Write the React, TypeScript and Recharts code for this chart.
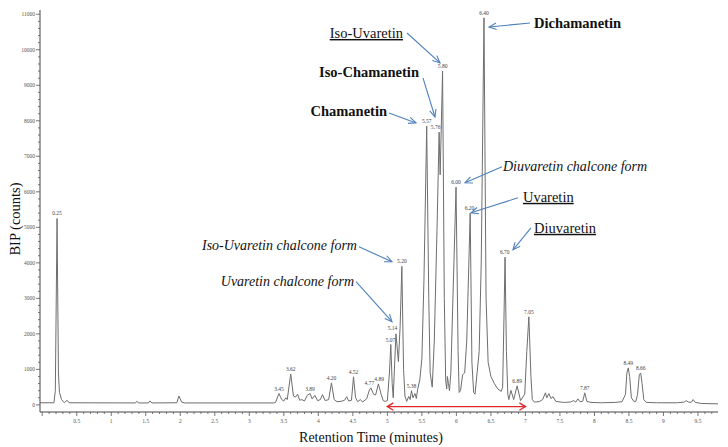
import { ComposedChart, Line, Scatter, XAxis, YAxis, ReferenceLine } from "recharts";

// base peak chromatogram, [retention time (min), counts]
const traceEarly: [number, number][] = [
  [-0.03, 60], [0.17, 60], [0.19, 400], [0.215, 5250], [0.235, 900], [0.25, 350],
  [0.28, 150], [0.32, 60], [0.36, 130], [0.39, 60], [1.35, 55], [1.37, 100],
  [1.4, 55], [1.54, 55], [1.56, 110], [1.59, 55], [1.95, 60], [1.98, 250],
  [2.02, 80], [2.06, 55], [3.35, 55],
];

const traceMinor: [number, number][] = [
  [3.38, 70], [3.43, 320], [3.47, 150], [3.5, 110], [3.53, 200], [3.55, 150],
  [3.6, 870], [3.64, 250], [3.67, 220], [3.7, 300], [3.73, 130], [3.76, 150],
  [3.8, 110], [3.84, 270], [3.88, 320], [3.91, 170], [3.95, 270], [3.99, 120],
  [4.03, 150], [4.06, 290], [4.1, 120], [4.15, 150], [4.19, 620], [4.23, 150],
  [4.27, 90], [4.33, 100], [4.38, 130], [4.41, 230], [4.44, 110], [4.48, 130],
  [4.51, 790], [4.54, 200], [4.57, 90], [4.61, 150], [4.64, 80], [4.7, 170],
  [4.74, 420], [4.76, 480], [4.8, 300], [4.83, 280], [4.87, 590], [4.91, 300],
  [4.94, 120], [4.97, 100],
];

const traceMain: [number, number][] = [
  [5.0, 120], [5.03, 900], [5.05, 1700], [5.07, 600], [5.085, 200], [5.1, 900],
  [5.125, 2000], [5.16, 1220], [5.185, 2200], [5.21, 3900], [5.235, 1000],
  [5.255, 250], [5.28, 100], [5.31, 240], [5.33, 150], [5.35, 400], [5.37, 200],
  [5.4, 320], [5.42, 180], [5.44, 450], [5.47, 700], [5.5, 1300], [5.53, 3500],
  [5.57, 7850], [5.6, 3000], [5.62, 900], [5.65, 500], [5.68, 1800], [5.72, 5000],
  [5.75, 7680], [5.765, 6480], [5.8, 9400], [5.825, 3000], [5.845, 700],
  [5.86, 450], [5.87, 800], [5.885, 600], [5.9, 400], [5.92, 900], [5.95, 3000],
  [5.995, 6130], [6.025, 1500], [6.04, 350], [6.06, 400], [6.09, 850], [6.12, 900],
  [6.15, 1800], [6.2, 5400], [6.225, 1200], [6.25, 350], [6.27, 300], [6.3, 900],
  [6.33, 1500], [6.36, 4000], [6.4, 10900], [6.43, 3000], [6.46, 1200], [6.5, 800],
  [6.55, 600], [6.6, 450], [6.65, 380], [6.67, 500], [6.69, 2500], [6.705, 4160],
  [6.725, 1500], [6.745, 300], [6.76, 150], [6.79, 410], [6.83, 150], [6.88, 535],
  [6.93, 120], [6.99, 300], [7.02, 1500], [7.05, 2480], [7.08, 800], [7.1, 150],
];

const traceLate: [number, number][] = [
  [7.13, 80], [7.2, 90], [7.25, 150], [7.29, 340], [7.31, 200], [7.34, 320],
  [7.37, 180], [7.4, 230], [7.44, 100], [7.55, 70], [7.65, 80], [7.7, 120],
  [7.73, 80], [7.76, 170], [7.79, 90], [7.83, 100], [7.86, 340], [7.89, 100],
  [7.95, 70], [8.1, 60], [8.3, 70], [8.4, 90], [8.45, 300], [8.47, 900],
  [8.49, 1040], [8.51, 800], [8.535, 200], [8.57, 100], [8.6, 100], [8.625, 300],
  [8.65, 850], [8.67, 900], [8.69, 600], [8.715, 150], [8.75, 70], [8.9, 60],
  [9.2, 60], [9.3, 80], [9.33, 120], [9.36, 80], [9.4, 70], [9.43, 150],
  [9.46, 70], [9.55, 40], [9.79, 30],
];

// retention time tags printed over the peaks: [text, time, counts]
const peakTags: [string, number, number][] = [
  ["0.25", 0.215, 5250], ["3.45", 3.43, 320], ["3.62", 3.6, 870], ["3.89", 3.88, 320],
  ["4.20", 4.19, 620], ["4.52", 4.51, 790], ["4.77", 4.74, 480], ["4.89", 4.88, 590],
  ["5.07", 5.045, 1700], ["5.14", 5.075, 2020], ["5.20", 5.21, 3900], ["5.38", 5.35, 400],
  ["5.57", 5.57, 7850], ["5.76", 5.7, 7680], ["5.80", 5.8, 9400], ["6.00", 5.995, 6130],
  ["6.20", 6.19, 5400], ["6.40", 6.4, 10900], ["6.70", 6.7, 4160], ["6.89", 6.88, 535],
  ["7.05", 7.05, 2480], ["7.87", 7.86, 340], ["8.49", 8.49, 1040], ["8.66", 8.67, 900],
];

const xMajorTicks = [0.5, 1, 1.5, 2, 2.5, 3, 3.5, 4, 4.5, 5, 5.5, 6, 6.5, 7, 7.5, 8, 8.5, 9, 9.5];
const yMajorTicks = [0, 1000, 2000, 3000, 4000, 5000, 6000, 7000, 8000, 9000, 10000, 11000];

type Callout = {
  text: string;
  kind: "bold" | "italic" | "underline";
  from: [number, number];
  to: [number, number];
  anchor: "start" | "end";
  dx: number;
  dy: number;
};

const callouts: Callout[] = [
  { text: "Dichamanetin", kind: "bold", from: [7.067, 10754], to: [6.473, 10641], anchor: "start", dx: 4, dy: 5 },
  { text: "Iso-Uvaretin", kind: "underline", from: [5.285, 10473], to: [5.763, 9629], anchor: "end", dx: -4, dy: 5 },
  { text: "Iso-Chamanetin", kind: "bold", from: [5.516, 9207], to: [5.69, 8107], anchor: "end", dx: -4, dy: -1 },
  { text: "Chamanetin", kind: "bold", from: [5.024, 8222], to: [5.415, 7941], anchor: "end", dx: -2, dy: 3 },
  { text: "Diuvaretin chalcone form", kind: "italic", from: [6.661, 6703], to: [6.125, 6253], anchor: "start", dx: 1, dy: 4 },
  { text: "Uvaretin", kind: "underline", from: [6.892, 5831], to: [6.212, 5409], anchor: "start", dx: 5, dy: 4 },
  { text: "Diuvaretin", kind: "underline", from: [7.081, 4987], to: [6.82, 4368], anchor: "start", dx: 3, dy: 5 },
  { text: "Iso-Uvaretin chalcone form", kind: "italic", from: [4.589, 4453], to: [5.067, 4031], anchor: "end", dx: -2, dy: 3 },
  { text: "Uvaretin chalcone form", kind: "italic", from: [4.546, 3469], to: [5.067, 2343], anchor: "end", dx: -2, dy: 4 },
];

const rows = [...traceEarly, ...traceMinor, ...traceMain, ...traceLate].map(([t, v]) => ({ t, v }));
const tagRows = peakTags.map(([label, t, v]) => ({ label, t, v }));

const xTicks: number[] = [];
for (let i = 0; i <= 97; i++) xTicks.push(i / 10);
const yTicks: number[] = [];
for (let i = 0; i <= 55; i++) yTicks.push(i * 200);

const SERIF = "'Liberation Serif', 'Times New Roman', serif";
const ARROW_BLUE = "#4f81bd";

const isMajor = (v: number, list: number[]) => list.some((m) => Math.abs(m - v) < 1e-6);

const XTick = (props: any) => {
  const { x, y, payload } = props;
  const major = isMajor(payload.value, xMajorTicks) || payload.value === 0;
  return (
    <g>
      <line x1={x} x2={x} y1={y} y2={y + (major ? 4 : 2)} stroke="#555" strokeWidth={0.8} />
      {isMajor(payload.value, xMajorTicks) && (
        <text x={x} y={y + 11} textAnchor="middle" fontSize={5.5} fill="#555" fontFamily={SERIF}>
          {String(payload.value)}
        </text>
      )}
    </g>
  );
};

const YTick = (props: any) => {
  const { x, y, payload } = props;
  const major = isMajor(payload.value, yMajorTicks);
  return (
    <g>
      <line x1={x} x2={x - (major ? 4 : 2)} y1={y} y2={y} stroke="#555" strokeWidth={0.8} />
      {major && (
        <text x={x - 5} y={y + 2} textAnchor="end" fontSize={5.5} fill="#555" fontFamily={SERIF}>
          {String(payload.value)}
        </text>
      )}
    </g>
  );
};

const head = (x: number, y: number, fromX: number, fromY: number, len: number, spread: number) => {
  const a = Math.atan2(fromY - y, fromX - x);
  const p1 = [x + len * Math.cos(a + spread), y + len * Math.sin(a + spread)];
  const p2 = [x + len * Math.cos(a - spread), y + len * Math.sin(a - spread)];
  return `M${p1[0]},${p1[1]} L${x},${y} L${p2[0]},${p2[1]}`;
};

const CalloutShape = (props: any & { c: Callout }) => {
  const { x1, y1, x2, y2, c } = props;
  return (
    <g>
      <line x1={x1} y1={y1} x2={x2} y2={y2} stroke={ARROW_BLUE} strokeWidth={1.1} />
      <path d={head(x2, y2, x1, y1, 8, 0.42)} fill="none" stroke={ARROW_BLUE} strokeWidth={1.1} />
      <text
        x={x1 + c.dx}
        y={y1 + c.dy}
        textAnchor={c.anchor}
        fontFamily={SERIF}
        fontSize={c.kind === "italic" ? 14 : 14.5}
        fontWeight={c.kind === "bold" ? 700 : 400}
        fontStyle={c.kind === "italic" ? "italic" : "normal"}
        textDecoration={c.kind === "underline" ? "underline" : undefined}
        fill="#111"
      >
        {c.text}
      </text>
    </g>
  );
};

const RangeShape = (props: any) => {
  const { x1, y1, x2, y2 } = props;
  return (
    <g>
      <line x1={x1} y1={y1} x2={x2} y2={y2} stroke="#e0282b" strokeWidth={1.4} />
      <path d={head(x1, y1, x2, y2, 7, 0.55)} fill="none" stroke="#e0282b" strokeWidth={1.4} />
      <path d={head(x2, y2, x1, y1, 7, 0.55)} fill="none" stroke="#e0282b" strokeWidth={1.4} />
    </g>
  );
};

const TagShape = (props: any) => {
  const { cx, cy, payload } = props;
  return (
    <text x={cx} y={cy - 3} textAnchor="middle" fontSize={5.5} fill="#444" fontFamily={SERIF}>
      {payload.label}
    </text>
  );
};

export default function App() {
  return (
    <div style={{ width: 728, height: 447, background: "#fff" }}>
      <style>{"body{margin:0}"}</style>
      <ComposedChart width={728} height={447} data={rows} margin={{ top: 10, right: 10, bottom: 15, left: 10 }}>
        <XAxis
          type="number"
          dataKey="t"
          domain={[-0.032, 9.79]}
          allowDataOverflow
          ticks={xTicks}
          interval={0}
          tickSize={0}
          tickMargin={0}
          tickLine={false}
          tick={<XTick />}
          height={20}
          axisLine={{ stroke: "#444", strokeWidth: 1 }}
          label={{
            content: (p: any) => (
              <text x={371} y={p.viewBox.y + p.viewBox.height + 10} textAnchor="middle" fontSize={14} fontFamily={SERIF} fill="#111">
                Retention Time (minutes)
              </text>
            ),
          }}
        />
        <YAxis
          type="number"
          domain={[-200, 11120]}
          allowDataOverflow
          ticks={yTicks}
          interval={0}
          tickSize={0}
          tickMargin={0}
          tickLine={false}
          tick={<YTick />}
          width={30}
          axisLine={{ stroke: "#444", strokeWidth: 1 }}
          label={{
            content: (p: any) => (
              <text
                x={0}
                y={0}
                transform={`translate(${p.viewBox.x + 10}, ${p.viewBox.y + p.viewBox.height / 2 + 8}) rotate(-90)`}
                textAnchor="middle"
                fontSize={14.5}
                fontFamily={SERIF}
                fill="#111"
              >
                BIP (counts)
              </text>
            ),
          }}
        />
        <Line type="linear" dataKey="v" stroke="#6e6e6e" strokeWidth={1} dot={false} isAnimationActive={false} />
        <Scatter data={tagRows} dataKey="v" shape={TagShape} isAnimationActive={false} />
        {callouts.map((c) => (
          <ReferenceLine
            key={c.text}
            segment={[{ x: c.from[0], y: c.from[1] }, { x: c.to[0], y: c.to[1] }]}
            ifOverflow="visible"
            shape={(p: any) => <CalloutShape {...p} c={c} />}
          />
        ))}
        <ReferenceLine
          segment={[{ x: 5, y: -48 }, { x: 7, y: -48 }]}
          ifOverflow="visible"
          shape={(p: any) => <RangeShape {...p} />}
        />
      </ComposedChart>
    </div>
  );
}
